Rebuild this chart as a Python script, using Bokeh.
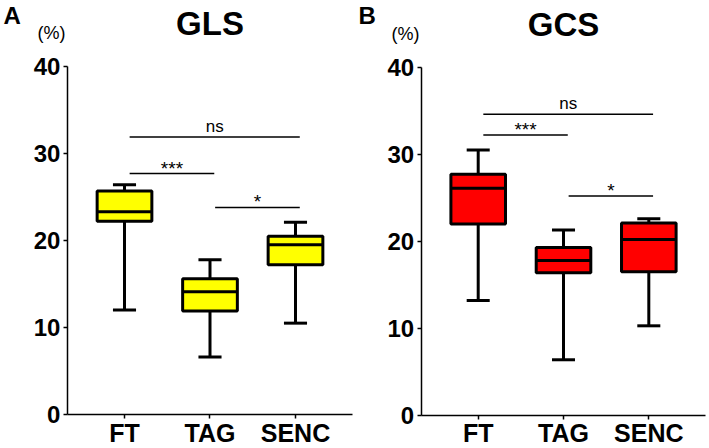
from bokeh.plotting import figure
from bokeh.layouts import row
from bokeh.models import ColumnDataSource, LabelSet, Label, FixedTicker, Range1d
from bokeh.core.properties import value
from bokeh.embed import file_html
from bokeh.resources import INLINE

# ---------------- data ----------------
categories = ["FT", "TAG", "SENC"]

gls_low = [12.0, 6.6, 10.5]
gls_q1 = [22.2, 11.9, 17.2]
gls_median = [23.3, 14.1, 19.5]
gls_q3 = [25.7, 15.6, 20.5]
gls_high = [26.4, 17.8, 22.1]

gcs_low = [13.2, 6.4, 10.3]
gcs_q1 = [22.0, 16.4, 16.5]
gcs_median = [26.1, 17.8, 20.2]
gcs_q3 = [27.7, 19.3, 22.1]
gcs_high = [30.5, 21.3, 22.6]

y_ticks = [0, 10, 20, 30, 40]

sig_from = ["FT", "FT", "TAG"]
sig_to = ["SENC", "TAG", "SENC"]
sig_labels = ["ns", "***", "*"]
gls_sig_y = [31.9, 27.7, 23.8]
gcs_sig_y = [34.6, 32.2, 25.2]

FONT = "Liberation Sans"


def make_panel(letter, title, low, q1, med, q3, high, color, sig_y,
               width, xr, yr, x_axis_bounds, text_pos):
    p = figure(width=width, height=448, x_range=Range1d(*xr), y_range=Range1d(*yr),
               output_backend="svg", toolbar_location=None,
               min_border_left=0, min_border_right=0, min_border_top=0, min_border_bottom=0)
    p.outline_line_color = None
    p.grid.visible = False
    p.background_fill_color = "white"
    p.border_fill_color = "white"

    xs = [categories.index(c) + 1 for c in categories]
    box_w = 0.64
    cap_w = 0.27
    src = ColumnDataSource(dict(
        x=xs, low=low, q1=q1, med=med, q3=q3, high=high,
        xl=[x - box_w / 2 for x in xs], xr=[x + box_w / 2 for x in xs],
        cl=[x - cap_w / 2 for x in xs], cr=[x + cap_w / 2 for x in xs],
    ))
    # whiskers
    p.segment(x0="x", y0="low", x1="x", y1="q1", source=src, line_color="black", line_width=3)
    p.segment(x0="x", y0="q3", x1="x", y1="high", source=src, line_color="black", line_width=3)
    p.segment(x0="cl", y0="low", x1="cr", y1="low", source=src, line_color="black", line_width=3)
    p.segment(x0="cl", y0="high", x1="cr", y1="high", source=src, line_color="black", line_width=3)
    # boxes
    p.vbar(x="x", width=box_w, bottom="q1", top="q3", source=src,
           fill_color=color, line_color="black", line_width=3)
    p.segment(x0="xl", y0="med", x1="xr", y1="med", source=src, line_color="black", line_width=3)

    # significance brackets
    x0 = [categories.index(c) + 1 + 0.06 for c in sig_from]
    x1 = [categories.index(c) + 1 + 0.05 for c in sig_to]
    ssrc = ColumnDataSource(dict(
        x0=x0, x1=x1, y=sig_y, xm=[(a + b) / 2 for a, b in zip(x0, x1)],
        label=sig_labels, dy=[5, -1, -1], fs=["17px", "19px", "19px"],
    ))
    p.segment(x0="x0", y0="y", x1="x1", y1="y", source=ssrc, line_color="black", line_width=1.5)
    p.add_layout(LabelSet(x="xm", y="y", text="label", source=ssrc, y_offset="dy",
                          text_align="center", text_baseline="alphabetic",
                          text_font=value(FONT), text_font_size="fs", text_color="black"))

    # x axis (inside the frame, at y = 0)
    xax = p.xaxis[0]
    xax.fixed_location = 0
    xax.bounds = x_axis_bounds
    xax.ticker = FixedTicker(ticks=xs)
    xax.major_label_overrides = {x: c for x, c in zip(xs, categories)}
    xax.major_label_text_font = FONT
    xax.major_label_text_font_size = "25px"
    xax.major_label_text_font_style = "bold"
    xax.major_label_text_color = "black"
    xax.major_label_standoff = 0
    xax.major_tick_out = 4
    xax.major_tick_in = 0
    xax.minor_tick_line_color = None
    xax.axis_line_width = 1.5
    xax.major_tick_line_width = 1.5
    xax.axis_line_color = "black"
    xax.major_tick_line_color = "black"

    # y axis (inside the frame, at the left end of the x axis)
    yax = p.yaxis[0]
    yax.fixed_location = x_axis_bounds[0]
    yax.bounds = (y_ticks[0], y_ticks[-1])
    yax.ticker = FixedTicker(ticks=y_ticks)
    yax.major_label_text_font = FONT
    yax.major_label_text_font_size = "24px"
    yax.major_label_text_font_style = "bold"
    yax.major_label_text_color = "black"
    yax.major_label_standoff = 3
    yax.major_tick_out = 4
    yax.major_tick_in = 0
    yax.minor_tick_line_color = None
    yax.axis_line_width = 1.5
    yax.major_tick_line_width = 1.5
    yax.axis_line_color = "black"
    yax.major_tick_line_color = "black"

    (tx, ty), (ux, uy), (lx, ly) = text_pos
    p.add_layout(Label(x=tx, y=ty, text=title, text_align="center",
                       text_baseline="alphabetic", text_font=FONT,
                       text_font_size="33px", text_font_style="bold", text_color="black"))
    p.add_layout(Label(x=ux, y=uy, text="(%)", text_align="center",
                       text_baseline="middle", text_font=FONT,
                       text_font_size="18px", text_color="black"))
    p.add_layout(Label(x=lx, y=ly, text=letter, text_align="left",
                       text_baseline="alphabetic", text_font=FONT,
                       text_font_size="24px", text_font_style="bold", text_color="black"))
    return p


pa = make_panel("A", "GLS", gls_low, gls_q1, gls_median, gls_q3, gls_high,
                "#FFFF00", gls_sig_y, width=355,
                xr=(-0.4503, 3.7018), yr=(-3.908, 47.586),
                x_axis_bounds=(0.333, 3.667),
                text_pos=((2.0, 44.97), (0.146, 43.9), (-0.415, 45.89)))
pb = make_panel("B", "GCS", gcs_low, gcs_q1, gcs_median, gcs_q3, gcs_high,
                "#FF0000", gcs_sig_y, width=354,
                xr=(-0.4385, 3.7115), yr=(-3.790, 47.660),
                x_axis_bounds=(0.3318, 3.665),
                text_pos=((2.0, 44.93), (0.148, 43.87), (-0.403, 45.96)))

layout = row(pa, pb, spacing=0)
open("out.html", "w").write(file_html(layout, INLINE))
